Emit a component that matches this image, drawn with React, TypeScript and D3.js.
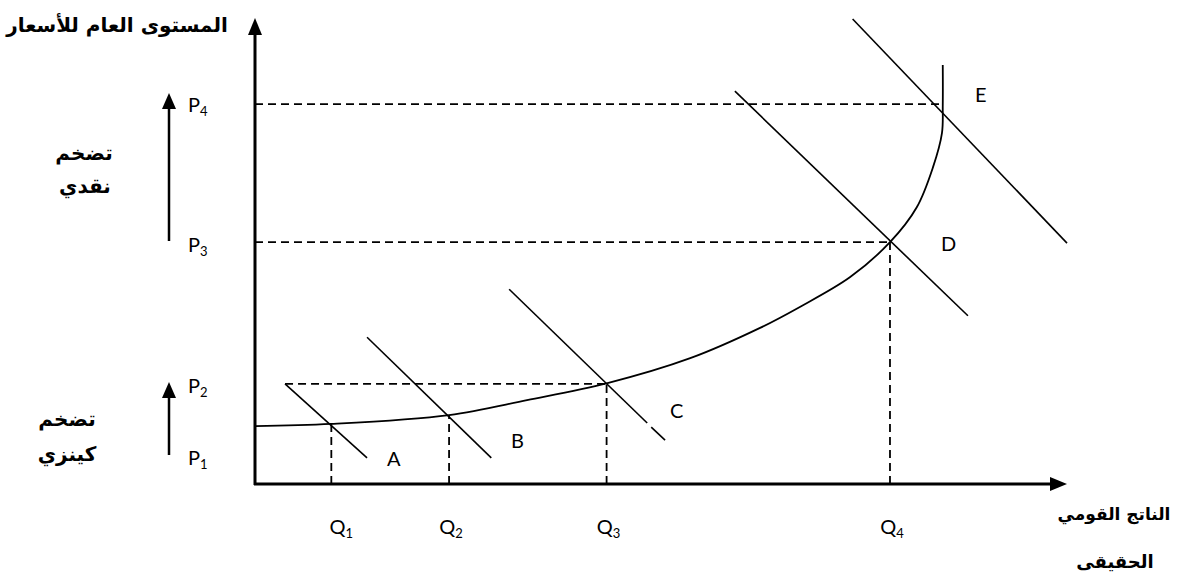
import React from "react";
import * as d3 from "d3";

const W = 1177;
const H = 574;

// aggregate supply curve: [real output, price level]
const supplyCurve: [number, number][] = [
  [0, 12.4], [9.4, 12.9], [23.9, 14.8], [33.5, 18.0], [43.3, 21.6],
  [53.6, 27.0], [62.2, 33.5], [67.1, 38.0], [73.3, 44.4], [78.2, 51.9],
  [81.5, 59.4], [83.5, 68.0], [84.6, 75.3], [84.7, 81.3], [84.7, 89.9],
];

// demand lines (start, end)
const demandA: [number, number][] = [[3.7, 21.5], [13.8, 5.6]];
const demandB: [number, number][] = [[13.8, 31.5], [29.1, 5.6]];
const demandC: [number, number][] = [[31.3, 41.8], [48.3, 13.1]];
const demandCTail: [number, number][] = [[48.8, 12.2], [50.5, 9.4]];
const demandD: [number, number][] = [[59.1, 84.3], [87.8, 36.1]];
const demandE: [number, number][] = [[73.6, 99.8], [100, 51.7]];

// equilibrium levels
const priceLevels = [12.4, 21.5, 51.9, 81.5];
const outputLevels = [9.4, 23.9, 43.3, 78.2];
const eqPrices = [12.9, 14.8, 21.5, 51.9];
const priceGuideEnd = [84.7, 78.2];
const pLabels = ["1", "2", "3", "4"];
const qLabels = ["1", "2", "3", "4"];
const curveLabels = ["A", "B", "C", "D", "E"];

const x = d3.scaleLinear().domain([0, 100]).range([255, 1067]);
const y = d3.scaleLinear().domain([0, 100]).range([484, 18]);

const latin = "Lato, 'Open Sans', sans-serif";
const arabic = "'DejaVu Sans', sans-serif";

function Sub({ px, py, main, sub, anchor = "start" }: any) {
  return (
    <text x={px} y={py} fontFamily={latin} fontSize={20} textAnchor={anchor} fill="#000">
      {main}
      <tspan fontSize={13} dy={4}>{sub}</tspan>
    </text>
  );
}

function Arrow({ x0, y0, y1 }: { x0: number; y0: number; y1: number }) {
  return (
    <g>
      <line x1={x0} y1={y0} x2={x0} y2={y1 + 14} stroke="#000" strokeWidth={2.5} />
      <path d={`M${x0 - 7},${y1 + 16}L${x0},${y1}L${x0 + 7},${y1 + 16}Z`} fill="#000" />
    </g>
  );
}

export default function App() {
  const line = d3.line<[number, number]>().x((d) => x(d[0])).y((d) => y(d[1]));
  const smooth = d3
    .line<[number, number]>()
    .x((d) => x(d[0]))
    .y((d) => y(d[1]))
    .curve(d3.curveCatmullRom.alpha(0.5));
  const demands = [demandA, demandB, demandC, demandCTail, demandD, demandE];
  const x0 = x(0);
  const y0 = y(0);

  return (
    <svg width={W} height={H} style={{ position: "absolute", left: 0, top: 0 }}>
      <rect width={W} height={H} fill="#fff" />

      {/* dashed guides */}
      <g stroke="#000" strokeWidth={1.8} strokeDasharray="8 5" fill="none">
        <line x1={x0} x2={x(priceGuideEnd[0])} y1={y(priceLevels[3])} y2={y(priceLevels[3])} />
        <line x1={x0} x2={x(priceGuideEnd[1])} y1={y(priceLevels[2])} y2={y(priceLevels[2])} />
        <line x1={x(demandA[0][0])} x2={x(outputLevels[2])} y1={y(priceLevels[1])} y2={y(priceLevels[1])} />
        {outputLevels.map((q, i) => (
          <line key={i} x1={x(q)} x2={x(q)} y1={y0} y2={y(eqPrices[i])} />
        ))}
      </g>

      {/* demand lines */}
      <g stroke="#000" strokeWidth={1.6} fill="none">
        {demands.map((d, i) => (
          <path key={i} d={line(d) || ""} />
        ))}
      </g>

      {/* supply curve */}
      <path d={smooth(supplyCurve) || ""} stroke="#000" strokeWidth={1.8} fill="none" />

      {/* axes */}
      <line x1={x0} y1={y0 + 1} x2={x0} y2={y(100) + 14} stroke="#000" strokeWidth={3} />
      <path d={`M${x0 - 7},${y(100) + 17}L${x0},${y(100)}L${x0 + 7},${y(100) + 17}Z`} fill="#000" />
      <line x1={x0 - 1} y1={y0} x2={x(100) - 15} y2={y0} stroke="#000" strokeWidth={3} />
      <path d={`M${x(100) - 17},${y0 - 7}L${x(100)},${y0}L${x(100) - 17},${y0 + 7}Z`} fill="#000" />

      {/* price labels */}
      <Sub px={188} py={112} main="P" sub={pLabels[3]} />
      <Sub px={188} py={252} main="P" sub={pLabels[2]} />
      <Sub px={188} py={393} main="P" sub={pLabels[1]} />
      <Sub px={188} py={465} main="P" sub={pLabels[0]} />

      {/* output labels */}
      {outputLevels.map((q, i) => (
        <Sub key={i} px={x(q) + (i === 0 ? 10 : 2)} py={534} main="Q" sub={qLabels[i]} anchor="middle" />
      ))}

      {/* curve letters */}
      <g fontFamily={latin} fontSize={20} fill="#000">
        <text x={387} y={466}>{curveLabels[0]}</text>
        <text x={511} y={448}>{curveLabels[1]}</text>
        <text x={670} y={418}>{curveLabels[2]}</text>
        <text x={941} y={251}>{curveLabels[3]}</text>
        <text x={975} y={102}>{curveLabels[4]}</text>
      </g>

      {/* inflation arrows */}
      <Arrow x0={169} y0={241} y1={93} />
      <Arrow x0={169} y0={455} y1={382} />

      {/* arabic titles */}
      <g fontFamily={arabic} fontWeight="bold" fontSize={20} fill="#000" textAnchor="middle" direction="rtl">
        <text x={117} y={32}>المستوى العام للأسعار</text>
        <text x={84} y={160}>تضخم</text>
        <text x={85} y={193}>نقدي</text>
        <text x={67} y={426}>تضخم</text>
        <text x={67} y={461}>كينزي</text>
        <text x={1114} y={520} fontSize={17}>الناتج القومي</text>
        <text x={1115} y={568} fontSize={18}>الحقيقى</text>
      </g>
    </svg>
  );
}
